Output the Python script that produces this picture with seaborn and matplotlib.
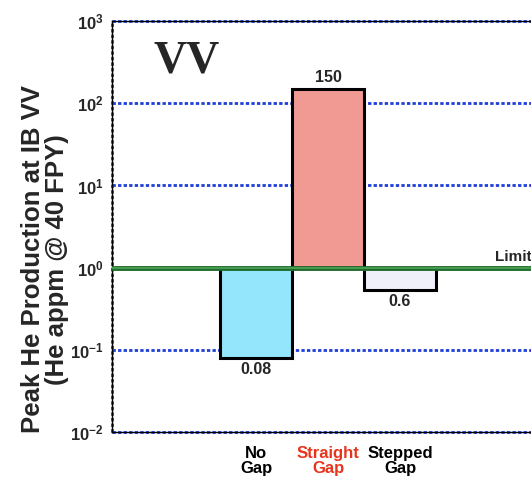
import pandas as pd
import matplotlib
matplotlib.use("Agg")
import matplotlib.pyplot as plt
import seaborn as sns

# chart data
categories = ["No\nGap", "Straight\nGap", "Stepped\nGap"]
values = [0.08, 151, 0.54]
value_labels = ["0.08", "150", "0.6"]
bar_colors = ["#93e6fc", "#f19a94", "#f0f0fa"]
tick_colors = ["black", "#e8341c", "black"]
limit = 1.0
decades = [1e-2, 1e-1, 1e0, 1e1, 1e2, 1e3]
decade_labels = [r"$\mathbf{10^{-2}}$", r"$\mathbf{10^{-1}}$", r"$\mathbf{10^{0}}$",
                 r"$\mathbf{10^{1}}$", r"$\mathbf{10^{2}}$", r"$\mathbf{10^{3}}$"]

sns.set_style("white")
plt.rcParams["font.family"] = ["Liberation Sans", "DejaVu Sans"]
plt.rcParams["font.weight"] = "bold"
plt.rcParams["mathtext.fontset"] = "custom"
plt.rcParams["mathtext.bf"] = "Liberation Sans:bold"
plt.rcParams["mathtext.rm"] = "Liberation Sans:bold"

df = pd.DataFrame({"case": categories,
                   "height": [v - limit for v in values]})

fig = plt.figure(figsize=(5.31, 4.8), dpi=100)
# axes runs past the right edge of the figure, as in the original slide crop
ax = fig.add_axes([0.211, 0.1, 0.889, 0.856])

sns.barplot(data=df, x="case", y="height", hue="case", palette=bar_colors,
            saturation=1, legend=False, width=1.0, bottom=limit, edgecolor="black",
            linewidth=2.2, ax=ax, zorder=3)

ax.set_yscale("log")
ax.set_ylim(1e-2, 1e3)
ax.set_xlim(-2, 4.556)

# blue dotted grid at each decade
for d in decades:
    ax.axhline(d, color="#1f3fd6", lw=2, ls=(0, (1.2, 0.8)), zorder=1, clip_on=False)
ax.axvline(-2, color="#1f3fd6", lw=2, ls=(0, (1.2, 0.8)), zorder=1, clip_on=False)

# limit line
ax.axhline(limit, color="#1f6b2a", lw=3.5, zorder=4)
ax.axhline(limit, color="#4fa35a", lw=1.2, zorder=5)
ax.text(3.32, 1.12, "Limit", fontsize=11, fontweight="bold", ha="left", va="bottom")

# value labels
for i, (v, lab) in enumerate(zip(values, value_labels)):
    if v > limit:
        ax.text(i, v * 1.12, lab, ha="center", va="bottom", fontsize=11.5, fontweight="bold")
    else:
        ax.text(i, v * 0.88, lab, ha="center", va="top", fontsize=11.5, fontweight="bold")

ax.text(-1.42, 320, "VV", fontsize=33, fontweight="bold", family="Liberation Serif",
        ha="left", va="center")

ax.set_yticks(decades)
ax.set_yticklabels(decade_labels, fontsize=12)
ax.tick_params(axis="y", which="major", direction="in", length=5, width=1.2, color="black", pad=6)
ax.tick_params(axis="y", which="minor", direction="in", length=3, width=1, color="black")
ax.yaxis.set_minor_locator(matplotlib.ticker.LogLocator(base=10, subs=range(2, 10)))
ax.yaxis.set_minor_formatter(matplotlib.ticker.NullFormatter())

ax.set_xticks(range(len(categories)))
ax.set_xticklabels(categories, fontsize=12, fontweight="bold", linespacing=1.0)
for lbl, c in zip(ax.get_xticklabels(), tick_colors):
    lbl.set_color(c)
ax.tick_params(axis="x", length=0, pad=10)

ax.set_xlabel("")
ax.set_ylabel("Peak He Production at IB VV\n(He appm @ 40 FPY)", fontsize=18.5,
              fontweight="bold", linespacing=1.0)
ax.yaxis.set_label_coords(-0.092, 0.42)

for side in ["top", "left", "bottom"]:
    ax.spines[side].set_color("black")
    ax.spines[side].set_linewidth(1)
ax.spines["right"].set_visible(False)

fig.savefig("out.png", dpi=100)
